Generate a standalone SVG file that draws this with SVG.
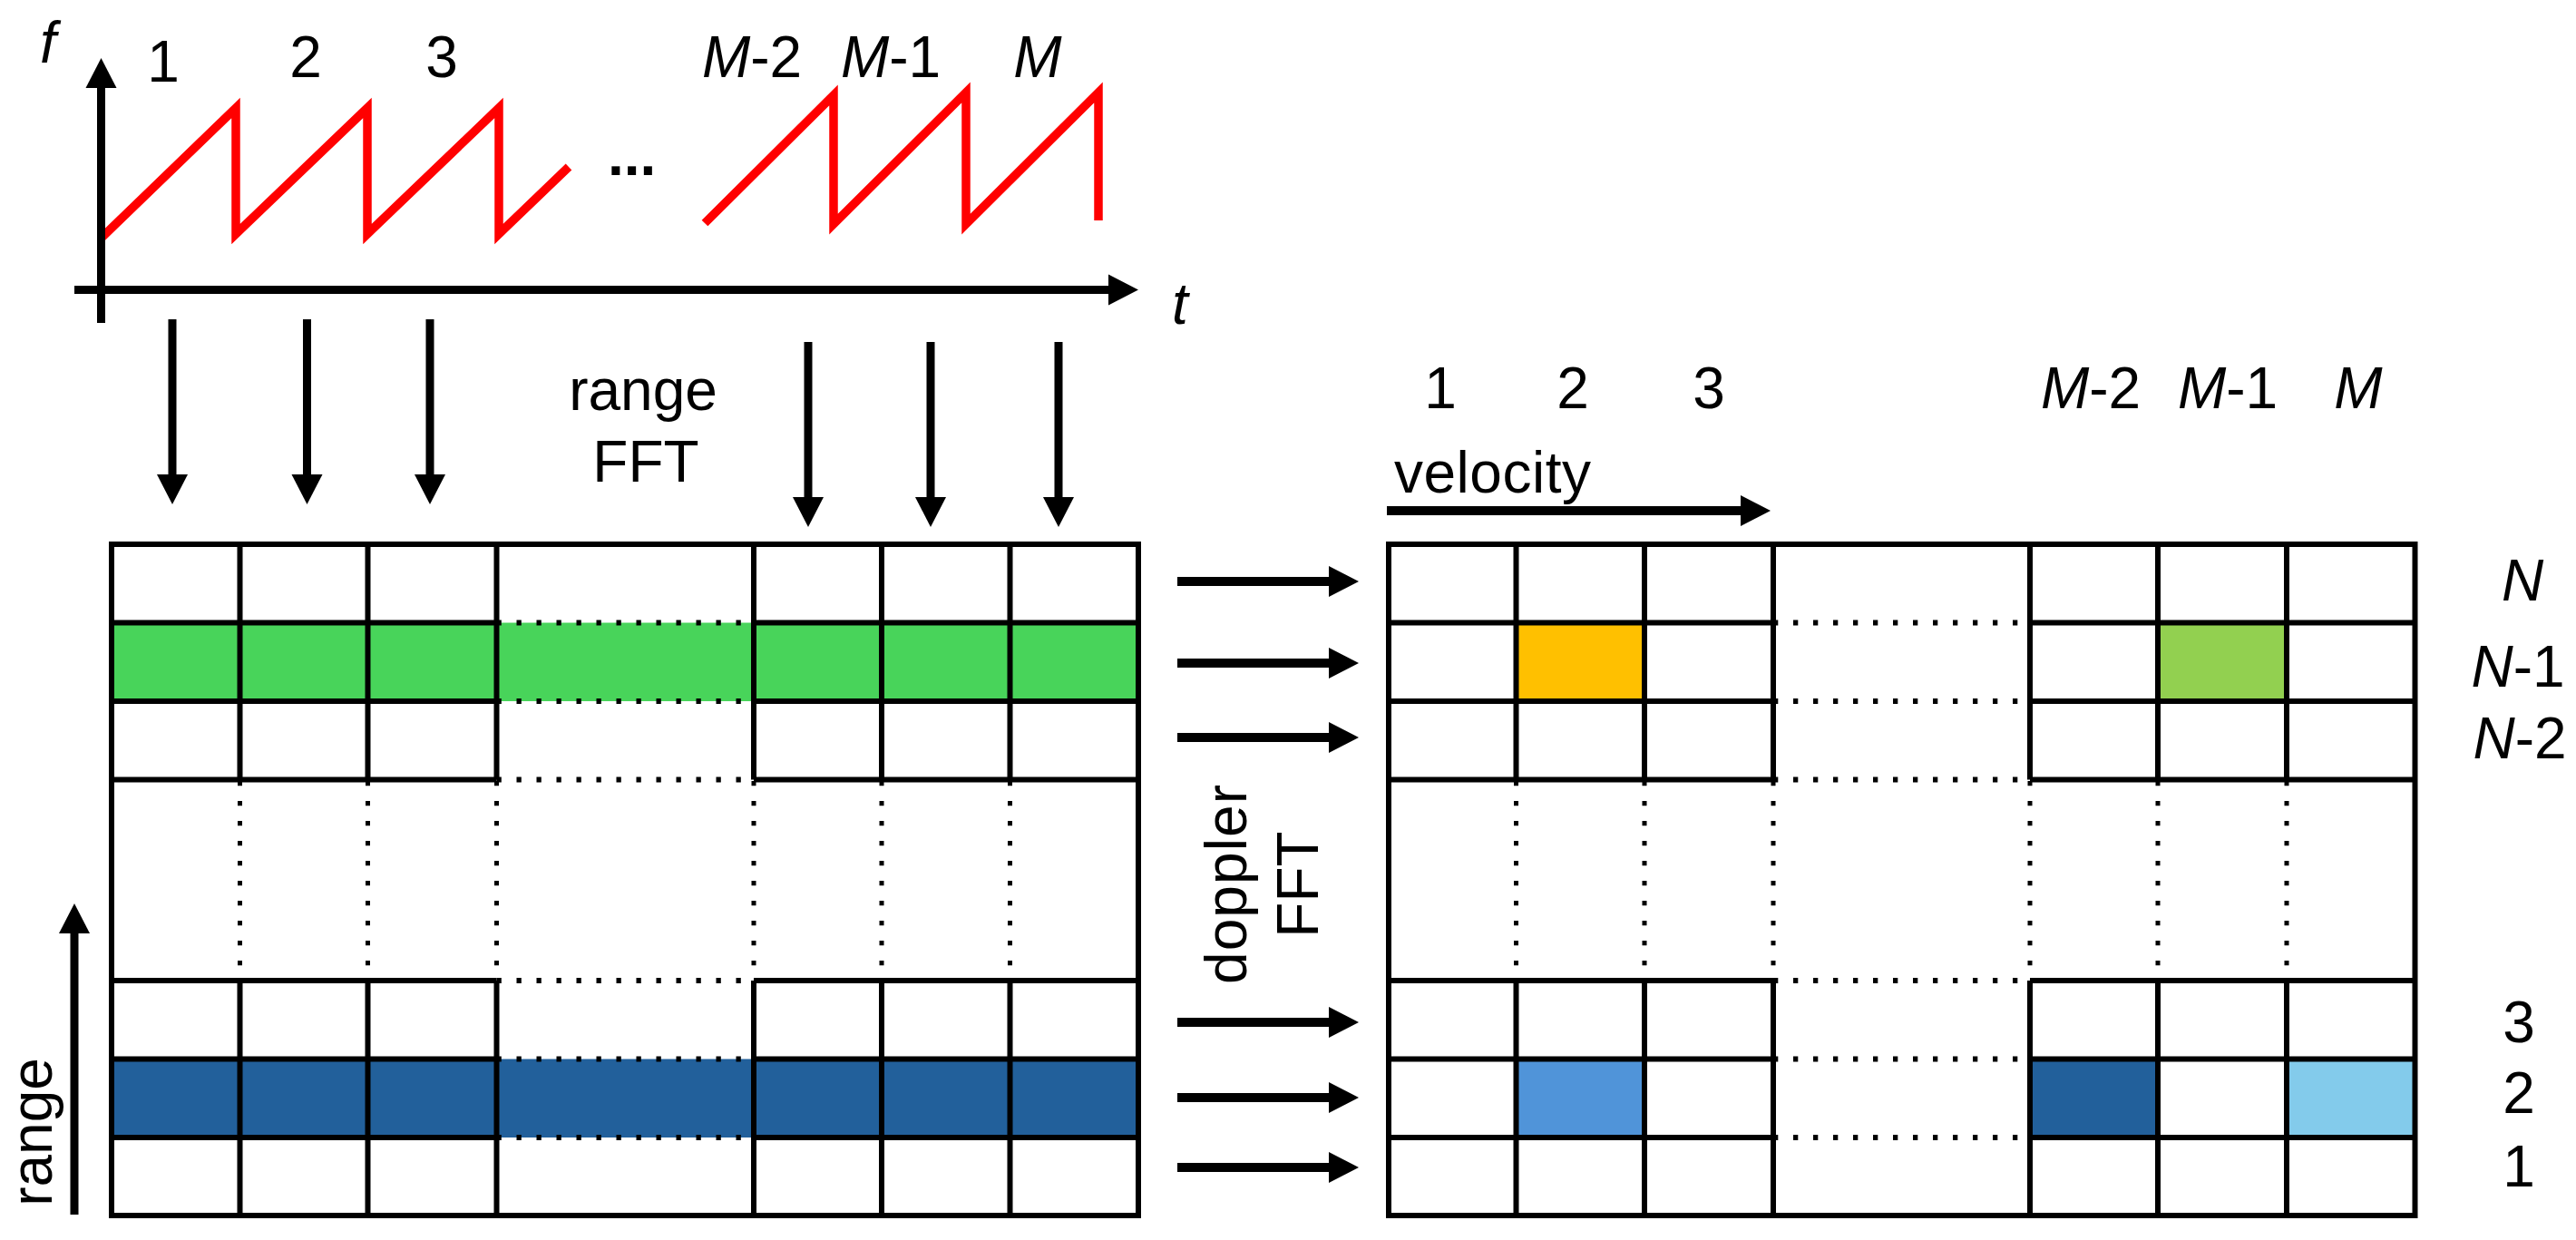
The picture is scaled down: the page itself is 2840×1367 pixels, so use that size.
<svg xmlns="http://www.w3.org/2000/svg" width="2840" height="1367" viewBox="0 0 2840 1367">
<style>
.t{font-family:"Liberation Sans",Arial,Helvetica,sans-serif;font-size:64px;fill:#000}
.i{font-style:italic}
.ln{stroke:#000;stroke-width:6;fill:none}
.dot{stroke:#000;stroke-width:6;fill:none;stroke-dasharray:5.3 16.7}
.vdot{stroke:#000;stroke-width:5;fill:none;stroke-dasharray:5.3 16.7}
.ar{stroke:#000;stroke-width:9;fill:none;marker-end:url(#ah)}
.saw{stroke:#ff0000;stroke-width:9.5;fill:none;stroke-linejoin:miter;stroke-miterlimit:4}
</style>
<defs>
<marker id="ah" markerUnits="userSpaceOnUse" markerWidth="36" markerHeight="36" refX="2" refY="17" orient="auto" overflow="visible">
<path d="M0,0 L33,17 L0,34 Z" fill="#000"/>
</marker>
</defs>
<rect width="2840" height="1367" fill="#fff"/>

<g id="chirp-plot">
<text class="t i" x="44" y="69" font-size="66">f</text>
<text class="t i" x="1292" y="357" font-size="66">t</text>
<text class="t" x="180" y="90" text-anchor="middle">1</text>
<text class="t" x="337" y="85" text-anchor="middle">2</text>
<text class="t" x="487" y="85" text-anchor="middle">3</text>
<text class="t" x="829" y="85" text-anchor="middle"><tspan class="i">M</tspan>-2</text>
<text class="t" x="982" y="85" text-anchor="middle"><tspan class="i">M</tspan>-1</text>
<text class="t i" x="1144" y="85" text-anchor="middle">M</text>
<text class="t" x="670" y="193" font-size="90" font-weight="bold">...</text>
<polyline class="saw" points="112,262 260,119 260,258 405,119 405,258 550,119 550,258 627,184"/>
<polyline class="saw" points="777,246 919,105 919,247 1065,102 1065,247 1211,102 1211,243"/>
</g>

<g id="range-matrix">
<rect x="123" y="686.5" width="1132" height="86.5" fill="#48d45a"/>
<rect x="123" y="1167.5" width="1132" height="86.5" fill="#22609b"/>
<rect class="ln" x="123" y="600" width="1132" height="740"/>
<path class="ln" d="M264.5,600V859.5M264.5,1081V1340M405.5,600V859.5M405.5,1081V1340M547.5,600V859.5M547.5,1081V1340M831,600V859.5M831,1081V1340M972,600V859.5M972,1081V1340M1113.5,600V859.5M1113.5,1081V1340"/>
<path class="vdot" d="M264.5,861V1081M405.5,861V1081M547.5,861V1081M831,861V1081M972,861V1081M1113.5,861V1081"/>
<path class="ln" d="M123,686.5H547.5M831,686.5H1255M123,773H547.5M831,773H1255M123,859.5H547.5M831,859.5H1255M123,1081H547.5M831,1081H1255M123,1167.5H547.5M831,1167.5H1255M123,1254H547.5M831,1254H1255"/>
<path class="dot" d="M547.5,686.5H831M547.5,773H831M547.5,859.5H831M547.5,1081H831M547.5,1167.5H831M547.5,1254H831"/>
</g>

<g id="range-label">
<text class="t" transform="translate(57,1248) rotate(-90)" text-anchor="middle" font-size="63">range</text>
</g>

<g id="range-fft-label">
<text class="t" x="709" y="452" text-anchor="middle" font-size="66">range</text>
<text class="t" x="712" y="531" text-anchor="middle" font-size="66">FFT</text>
</g>

<g id="doppler-fft-label">
<text class="t" transform="translate(1374,975) rotate(-90)" text-anchor="middle" font-size="52" textLength="220" lengthAdjust="spacing">doppler</text>
<text class="t" transform="translate(1453,975) rotate(-90)" text-anchor="middle" font-size="66">FFT</text>
</g>

<g id="velocity-label">
<text class="t" x="1537" y="543" font-size="60" textLength="217" lengthAdjust="spacing">velocity</text>
</g>

<g id="doppler-matrix">
<rect x="1671.5" y="686.5" width="141.5" height="86.5" fill="#ffc000"/>
<rect x="2379" y="686.5" width="142" height="86.5" fill="#92d050"/>
<rect x="1671.5" y="1167.5" width="141.5" height="86.5" fill="#5094d9"/>
<rect x="2238" y="1167.5" width="141" height="86.5" fill="#22609b"/>
<rect x="2521" y="1167.5" width="141.5" height="86.5" fill="#83cbeb"/>
<rect class="ln" x="1531" y="600" width="1131.5" height="740"/>
<path class="ln" d="M1671.5,600V859.5M1671.5,1081V1340M1813,600V859.5M1813,1081V1340M1955,600V859.5M1955,1081V1340M2238,600V859.5M2238,1081V1340M2379,600V859.5M2379,1081V1340M2521,600V859.5M2521,1081V1340"/>
<path class="vdot" d="M1671.5,861V1081M1813,861V1081M1955,861V1081M2238,861V1081M2379,861V1081M2521,861V1081"/>
<path class="ln" d="M1531,686.5H1955M2238,686.5H2662.5M1531,773H1955M2238,773H2662.5M1531,859.5H1955M2238,859.5H2662.5M1531,1081H1955M2238,1081H2662.5M1531,1167.5H1955M2238,1167.5H2662.5M1531,1254H1955M2238,1254H2662.5"/>
<path class="dot" d="M1955,686.5H2238M1955,773H2238M1955,859.5H2238M1955,1081H2238M1955,1167.5H2238M1955,1254H2238"/>
</g>

<g id="doppler-col-labels">
<text class="t" x="1588" y="450" text-anchor="middle">1</text>
<text class="t" x="1734" y="450" text-anchor="middle">2</text>
<text class="t" x="1884" y="450" text-anchor="middle">3</text>
<text class="t" x="2305" y="450" text-anchor="middle"><tspan class="i">M</tspan>-2</text>
<text class="t" x="2456" y="450" text-anchor="middle"><tspan class="i">M</tspan>-1</text>
<text class="t i" x="2600" y="450" text-anchor="middle">M</text>
</g>

<g id="doppler-row-labels">
<text class="t i" x="2781" y="662" text-anchor="middle">N</text>
<text class="t" x="2776" y="757" text-anchor="middle"><tspan class="i">N</tspan>-1</text>
<text class="t" x="2778" y="836" text-anchor="middle"><tspan class="i">N</tspan>-2</text>
<text class="t" x="2777" y="1149" text-anchor="middle">3</text>
<text class="t" x="2777" y="1227" text-anchor="middle">2</text>
<text class="t" x="2777" y="1308" text-anchor="middle">1</text>
</g>

<g id="connectors">
<path class="ar" d="M111.5,356V95"/>
<path class="ar" d="M82,319.5H1224"/>
<path class="ar" d="M190,352V525"/>
<path class="ar" d="M338.5,352V525"/>
<path class="ar" d="M474,352V525"/>
<path class="ar" d="M891,377V550"/>
<path class="ar" d="M1026,377V550"/>
<path class="ar" d="M1167,377V550"/>
<path class="ar" d="M82,1339V1027"/>
<path class="ar" style="stroke-width:10" d="M1529,563H1921"/>
<path class="ar" style="stroke-width:10" d="M1298,641H1467"/>
<path class="ar" style="stroke-width:10" d="M1298,731H1467"/>
<path class="ar" style="stroke-width:10" d="M1298,813H1467"/>
<path class="ar" style="stroke-width:10" d="M1298,1127H1467"/>
<path class="ar" style="stroke-width:10" d="M1298,1210H1467"/>
<path class="ar" style="stroke-width:10" d="M1298,1287H1467"/>
</g>
</svg>
